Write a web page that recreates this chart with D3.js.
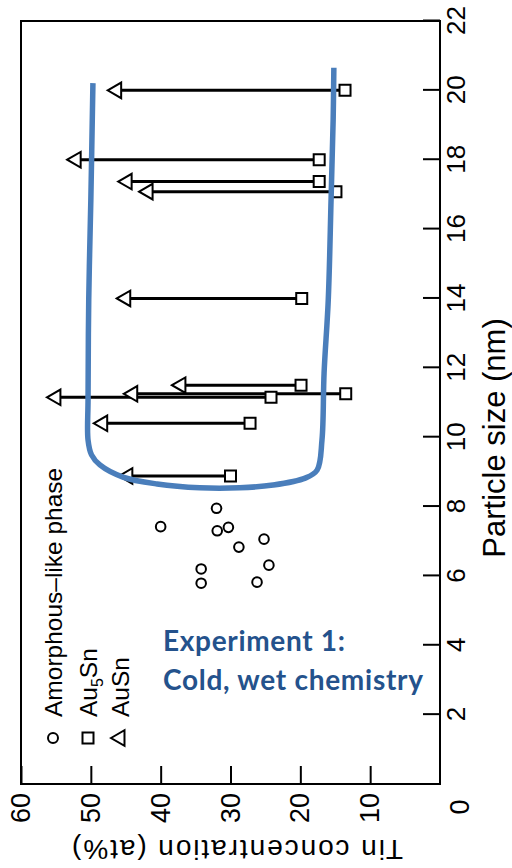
<!DOCTYPE html>
<html>
<head>
<meta charset="utf-8">
<script src="https://cdn.jsdelivr.net/npm/d3@7/dist/d3.min.js"></script>
<style>
  html, body { margin: 0; padding: 0; background: #fff; }
  svg { display: block; }
</style>
</head>
<body>
<svg id="chart" width="512" height="868"></svg>
<script>
// ---------------- data ----------------
const sizeTicks = [2, 4, 6, 8, 10, 12, 14, 16, 18, 20, 22];
const tinTicks = [10, 20, 30, 40, 50, 60];
const originLabel = "0";

const legendLabels = ["Amorphous\u2013like phase", "Au5Sn", "AuSn"];

// amorphous-like phase (circles)
const amorphSize = [7.95, 7.42, 7.30, 7.40, 6.83, 7.06, 6.31, 6.20, 5.79, 5.82];
const amorphTin  = [32.0, 40.0, 31.9, 30.3, 28.8, 25.2, 24.5, 34.2, 34.2, 26.2];

// arrows: Au5Sn (square) -> AuSn (triangle)
const arrowSize = [20.0, 18.0, 17.37, 17.08, 14.0, 11.5, 11.25, 11.15, 10.4, 8.88];
const au5snTin  = [13.6, 17.3, 17.3, 14.9, 19.8, 19.9, 13.5, 24.2, 27.2, 30.0];
const ausnTin   = [46.3, 52.1, 44.8, 41.8, 45.0, 37.1, 44.0, 55.0, 48.3, 44.7];

// hand-drawn blue annotation outline (tin at%, particle size nm)
const curveTin  = [49.7, 50.0, 50.3, 50.4, 50.4, 49.9, 48.7, 45.4, 40.5, 34.4, 28.7, 23.9, 19.3, 17.6, 16.9, 16.6, 16.0, 15.6, 15.3, 15.2];
const curveSize = [20.21, 16.84, 13.96, 11.07, 9.92, 9.49, 9.20, 8.85, 8.65, 8.54, 8.54, 8.62, 8.82, 9.05, 9.92, 11.85, 13.96, 16.84, 19.15, 20.65];

const annotationLines = ["Experiment 1:", "Cold, wet chemistry"];

// ---------------- layout ----------------
const svg = d3.select("#chart");
const W = 763;   // particle-size axis length (local horizontal)
const H = 419;   // tin axis length (local vertical)
const FONT = "'Liberation Sans', Arial, Helvetica, sans-serif";

// the original chart is drawn unrotated, then turned 90deg counter-clockwise
const g = svg.append("g").attr("transform", "translate(21,784) rotate(-90)");

const x = d3.scaleLinear().domain([0, 22]).range([0, W]);
const y = d3.scaleLinear().domain([0, 60]).range([H, 0]);

// frame
g.append("rect").attr("x", 0).attr("y", 0).attr("width", W).attr("height", H)
  .attr("fill", "none").attr("stroke", "#000").attr("stroke-width", 2);

// particle size axis (bottom in local)
const ax = g.append("g").attr("transform", `translate(0,${H})`)
  .call(d3.axisBottom(x).tickValues(sizeTicks).tickSize(-17).tickPadding(7));
ax.select(".domain").remove();
ax.selectAll(".tick line").attr("stroke", "#000").attr("stroke-width", 2);
ax.selectAll(".tick text").attr("font-family", FONT).attr("font-size", 26).attr("fill", "#000");

// tin axis (left in local)
const ay = g.append("g")
  .call(d3.axisLeft(y).tickValues(tinTicks).tickSize(-18).tickPadding(9));
ay.select(".domain").remove();
ay.selectAll(".tick line").attr("stroke", "#000").attr("stroke-width", 2);
ay.selectAll(".tick text").attr("font-family", FONT).attr("font-size", 27).attr("fill", "#000");

// shared origin label
g.append("text").attr("x", -23).attr("y", H + 19).attr("text-anchor", "middle")
  .attr("dy", "0.36em").attr("font-family", FONT).attr("font-size", 27).text(originLabel);

// axis titles
g.append("text").attr("x", 346).attr("y", H + 65).attr("text-anchor", "middle")
  .attr("font-family", FONT).attr("font-size", 31).text("Particle size (nm)");
g.append("text").attr("transform", `translate(-56,${H / 2 + 7}) rotate(-90)`)
  .attr("text-anchor", "middle").attr("font-family", FONT).attr("font-size", 28)
  .attr("textLength", 331).attr("lengthAdjust", "spacing")
  .text("Tin concentration (at%)");

// arrows
const arrows = arrowSize.map((s, i) => ({ s, a: au5snTin[i], b: ausnTin[i] }));
g.append("g").selectAll("line").data(arrows).join("line")
  .attr("x1", d => x(d.s)).attr("x2", d => x(d.s))
  .attr("y1", d => y(d.a)).attr("y2", d => y(d.b))
  .attr("stroke", "#000").attr("stroke-width", 3);

const tri = d3.symbol().type(d3.symbolTriangle).size(105);
const sq = d3.symbol().type(d3.symbolSquare).size(121);

g.append("g").selectAll("path").data(arrows).join("path")
  .attr("d", tri).attr("transform", d => `translate(${x(d.s)},${y(d.b)})`)
  .attr("fill", "#fff").attr("stroke", "#000").attr("stroke-width", 2);
g.append("g").selectAll("path").data(arrows).join("path")
  .attr("d", sq).attr("transform", d => `translate(${x(d.s)},${y(d.a)})`)
  .attr("fill", "#fff").attr("stroke", "#000").attr("stroke-width", 2);

// amorphous circles
const amorph = amorphSize.map((s, i) => ({ s, t: amorphTin[i] }));
g.append("g").selectAll("circle").data(amorph).join("circle")
  .attr("cx", d => x(d.s)).attr("cy", d => y(d.t)).attr("r", 4.8)
  .attr("fill", "#fff").attr("stroke", "#000").attr("stroke-width", 2);

// legend
const legV = [32, 67, 99];
const lg = g.append("g");
lg.append("circle").attr("cx", 46).attr("cy", legV[0]).attr("r", 5)
  .attr("fill", "none").attr("stroke", "#000").attr("stroke-width", 2);
lg.append("path").attr("d", sq).attr("transform", `translate(46,${legV[1]})`)
  .attr("fill", "none").attr("stroke", "#000").attr("stroke-width", 2);
lg.append("path").attr("d", tri).attr("transform", `translate(46,${legV[2]})`)
  .attr("fill", "none").attr("stroke", "#000").attr("stroke-width", 2);
lg.append("text").attr("x", 67).attr("y", legV[0]).attr("dy", "0.36em")
  .attr("font-family", FONT).attr("font-size", 24.5).text(legendLabels[0]);
const t2 = lg.append("text").attr("x", 67).attr("y", legV[1]).attr("dy", "0.36em")
  .attr("font-family", FONT).attr("font-size", 24.5);
t2.append("tspan").text("Au");
t2.append("tspan").attr("font-size", 16).attr("dy", 6).text("5");
t2.append("tspan").attr("dy", -6).text("Sn");
lg.append("text").attr("x", 67).attr("y", legV[2]).attr("dy", "0.36em")
  .attr("font-family", FONT).attr("font-size", 24.5).text(legendLabels[2]);

// blue annotation outline
const curvePts = curveSize.map((s, i) => ({ s, t: curveTin[i] }));
g.append("path").datum(curvePts)
  .attr("d", d3.line().x(d => x(d.s)).y(d => y(d.t)).curve(d3.curveCatmullRom))
  .attr("fill", "none").attr("stroke", "#4a7ebb").attr("stroke-width", 5.5);

// annotation text (upright)
const ann = svg.append("g").attr("font-family", "Lato, 'Open Sans', sans-serif")
  .attr("font-weight", "bold").attr("fill", "#24528c").attr("font-size", 28);
ann.append("text").attr("x", 163).attr("y", 651)
  .attr("textLength", 182).attr("lengthAdjust", "spacing").text(annotationLines[0]);
ann.append("text").attr("x", 163).attr("y", 690)
  .attr("textLength", 260).attr("lengthAdjust", "spacing").text(annotationLines[1]);
</script>
</body>
</html>
